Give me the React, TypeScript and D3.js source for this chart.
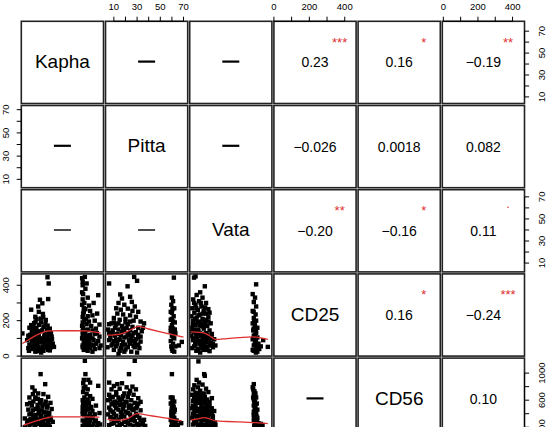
import React from "react";
import * as d3 from "d3";

const W = 547;
const H = 427;
const ORIGIN = 21.3;
const PITCH = 84.2;
const SIZE = 82.2;
const FONT = "'Liberation Sans', Arial, Helvetica, sans-serif";
const RED = "#e03030";

// variables (6th variable's row is outside the picture)
const varNames = ["Kapha", "Pitta", "Vata", "CD25", "CD56", "V6"];
const varDomains: [number, number][] = [
  [4, 79],
  [2.8, 73.6],
  [2, 76.5],
  [0, 464],
  [7, 1222],
  [-6, 469],
];
const doshaTicks = [10, 20, 30, 40, 50, 60, 70];
const doshaLabels = [10, 30, 50, 70];
const cd25Ticks = [0, 100, 200, 300, 400];
const cd25Labels = [0, 200, 400];
const cd56Ticks = [200, 400, 600, 800, 1000];
const cd56Labels = [200, 600, 1000];
const varTicks = [doshaTicks, doshaTicks, doshaTicks, cd25Ticks, cd56Ticks, cd25Ticks];
const varLabels = [doshaLabels, doshaLabels, doshaLabels, cd25Labels, cd56Labels, cd25Labels];

// upper panels: [row, col, r, significance]
const corrCells: [number, number, string, string][] = [
  [0, 3, "0.23", "***"],
  [0, 4, "0.16", "*"],
  [0, 5, "\u22120.19", "**"],
  [1, 3, "\u22120.026", ""],
  [1, 4, "0.0018", ""],
  [1, 5, "0.082", ""],
  [2, 3, "\u22120.20", "**"],
  [2, 4, "\u22120.16", "*"],
  [2, 5, "0.11", "."],
  [3, 4, "0.16", "*"],
  [3, 5, "\u22120.24", "***"],
  [4, 5, "0.10", ""],
];

// dash cells: [row, col, thickness]
const dashCells: [number, number, number][] = [
  [0, 1, 2.2],
  [0, 2, 2.2],
  [1, 0, 2.2],
  [1, 2, 2.2],
  [2, 0, 1.4],
  [2, 1, 1.4],
  [4, 3, 2.2],
];

// scatter data
const kaphaCD25: [number, number][] = [
  [27.9,445],[29,410],[28.5,322],[21,318],[23.2,298],[19.4,280],[13,262],[20,250],[23.7,238],[16.8,222],[22.1,212],[26.3,204],[15.7,186],[20,176],[5,128],
  [11.4,160],[14.6,150],[17.8,158],[24.2,165],[27.4,150],[29.5,140],[13.6,135],[16.8,128],[21,140],[25.3,125],[28.5,118],[31.7,110],[10.4,115],[12.5,100],[15.7,108],[20,112],[23.2,100],[26.3,95],[30.6,92],[9.3,90],[13.6,82],[17.8,88],[22.1,80],[25.3,72],[29.5,78],[32.7,70],[11.4,65],[15.7,60],[18.9,68],[23.2,55],[27.4,58],[30.6,48],[10.4,45],[14.6,40],[20,38],[24.2,30],[28.5,35],[16.8,25],[33.8,52],[22.1,20],
  [12,120],[14,95],[17,75],[19,125],[21,90],[23,145],[25,110],[27,85],[29,60],[31,130],[12,55],[16,45],[19,50],[22,42],[26,48],[30,32],[13,175],[17,195],[22,190],[26,180],[28,172],[18,210],[24,220],[20,100],[18,140],[15,170],[11,30],[19,28],[32,95],[27,120],[24,82],[17,100],[14,115],[28,100],[30,155],
  [62,447],[63.6,410],[74.2,344],[62.5,380],[60.4,350],[64.6,330],[61.5,300],[65.7,285],[70,300],[62.5,265],[66.8,255],[60.4,240],[64.6,225],[68.9,230],[73.2,240],[61.5,205],[65.7,195],[71,200],[63.6,180],[67.8,170],[75.3,178],[60.4,160],[64.6,150],[68.9,145],[72.1,155],[62.5,130],[66.8,120],[71,125],[75.3,110],[61.5,105],[65.7,95],[70,90],[74.2,85],[63.6,75],[67.8,65],[72.1,70],[76.4,60],[62.5,55],[66.8,45],[71,40],[64.6,30],[68.9,25],[75.3,45],[60,420],[61,270],[60,190],[60,120],[61,80],[60,60],
  [59.5,440],[60,400],[59.5,360],[60,320],[59.5,290],[61,250],[60,220],[63,210],[59.5,170],[62,145],[60,140],[63,115],[59.5,100],[62,90],[60,50],[63,40],[61,35],[65,110],[69,100],[73,130],[70,60],[66,80],[64,60],
];
const pittaCD25: [number, number][] = [
  [5.9,410],[27.5,447],[30,425],[21.8,394],[15.5,348],[17,325],[24,335],[25.5,306],[14,300],[19,290],[28,280],[12,270],[16,262],[22,268],[26,255],[31,250],[13,240],[18,235],[24,230],[29,222],[10,215],[15,205],[20,210],[27,200],[33,195],[8,185],[12,178],[17,170],[22,180],[26,165],[31,160],[5,150],[9,145],[14,150],[19,140],[24,145],[29,135],[34,140],[7,120],[11,115],[16,120],[21,110],[26,115],[31,105],[6,90],[10,85],[14,92],[18,80],[23,88],[28,75],[33,82],[8,60],[12,55],[17,62],[22,50],[27,58],[32,45],[10,35],[15,30],[20,38],[25,25],[4.5,50],[30,20],
  [7,100],[9,130],[11,160],[13,125],[15,95],[17,135],[19,105],[21,160],[23,120],[25,100],[27,130],[29,95],[31,120],[33,110],[9,70],[13,70],[16,45],[20,65],[24,70],[28,50],[31,65],[6,180],[10,190],[14,185],[20,190],[24,195],[18,155],[22,125],[12,90],[26,85],[35,160],[19,25],[14,12],[6,130],[36,185],
  [61.7,443],[60,330],[61,310],[59.5,290],[62,270],[60,245],[61.5,225],[59,205],[62.5,190],[60,175],[61,155],[59,140],[63,130],[60,115],[62,100],[59,85],[61,70],[63,55],[60,40],[62,25],[68.5,80],[66,60],
  [59,250],[60.5,265],[60,210],[61,195],[59,160],[60.5,130],[61,110],[59.5,55],[60.5,30],[62.5,150],
];
const vataCD25: [number, number][] = [
  [5.9,443],[7.3,450],[15.7,394],[11.5,360],[8.3,345],[13.6,330],[5.2,320],[10.5,310],[16.8,300],[7.3,290],[12.6,280],[4.1,270],[9.4,260],[14.7,255],[18.9,265],[6.2,245],[11.5,235],[16.8,240],[3.6,225],[8.3,218],[13.6,210],[18.9,220],[5.2,200],[10.5,195],[15.7,190],[21,185],[7.3,175],[12.6,168],[17.9,170],[4.1,160],[9.4,150],[14.7,155],[20,145],[6.2,135],[11.5,128],[16.8,130],[22.1,125],[3.6,115],[8.3,110],[13.6,105],[18.9,100],[24.2,95],[5.2,90],[10.5,85],[15.7,80],[21,75],[7.3,65],[12.6,60],[17.9,55],[23.1,50],[4.1,45],[9.4,40],[14.7,35],[20,28],[11.5,20],[25.3,60],
  [5,180],[7,210],[9,190],[11,175],[13,185],[15,170],[17,205],[19,195],[4,140],[6,150],[8,125],[10,140],[12,115],[14,125],[16,110],[18,120],[20,110],[22,100],[5,100],[7,80],[9,95],[11,70],[13,85],[15,65],[17,90],[19,80],[21,60],[23,70],[6,55],[8,30],[12,45],[16,50],[18,35],[10,230],[14,240],[8,270],[12,300],[6,300],[16,275],[20,245],
  [62.2,405],[59.1,350],[61.2,330],[60.1,305],[62.2,280],[59.1,255],[61.7,235],[60.1,215],[62.2,200],[59.1,185],[61.2,170],[63.3,160],[59.6,145],[62.2,130],[60.1,115],[63.3,105],[59.1,95],[61.2,80],[64.3,70],[60.1,60],[62.2,45],[59.1,35],[63.3,25],[66.4,55],[72.8,52],[68.6,90],
  [60,250],[61,180],[60,155],[62,140],[61,120],[60,100],[62,85],[61,65],[60,30],[63,50],[62,20],[65,40],[60.5,195],
];
const kaphaCD56: [number, number][] = [
  [21.6,985],[25.8,837],[14.1,789],[16.2,740],[19.4,700],[14.6,689],[24.2,690],[28.5,650],[11.4,640],[16.8,620],[22.1,600],[26.3,580],[30.6,560],[9.3,540],[13.6,520],[18.9,530],[23.2,510],[27.4,490],[31.7,470],[10.4,460],[14.6,450],[20,440],[24.2,420],[29.5,410],[11.4,390],[16.8,380],[22.1,370],[26.3,360],[30.6,340],[7.2,330],[12.5,320],[17.8,310],[23.2,300],[28.5,290],[32.7,280],[9.3,270],[14.6,260],[20,250],[25.3,240],[29.5,230],[11.4,220],[16.8,210],[22.1,200],[27.4,190],[13.6,160],[20,150],[7.2,200],
  [12,560],[15,580],[17,470],[19,620],[21,560],[23,450],[25,540],[27,420],[29,380],[13,400],[15,350],[18,330],[20,400],[22,330],[24,280],[26,320],[28,250],[31,310],[10,300],[12,250],[16,230],[18,280],[21,260],[23,220],[26,210],[30,200],[14,300],[19,480],[17,640],[28,520],
  [62,1182],[62.5,985],[65.2,900],[66.8,860],[74.2,812],[62.5,800],[64.6,760],[60.4,720],[63.6,690],[66.8,660],[61.5,640],[64.6,610],[68.9,620],[62.5,580],[65.7,560],[60.4,540],[63.6,520],[67.8,500],[72.1,520],[61.5,480],[64.6,460],[68.9,440],[62.5,420],[66.8,400],[71,390],[75.3,410],[61.5,380],[64.6,360],[67.8,340],[63.6,320],[66.8,300],[71,290],[62.5,280],[65.7,260],[70,250],[74.2,260],[61.5,240],[64.6,220],[68.9,210],[73.2,200],[63.6,190],[67.8,170],
  [61,900],[60.5,850],[61,780],[60,600],[60,500],[60,440],[60,400],[60,300],[60,220],[63,540],[66,480],[69,350],[72,300],[66,230],[62,210],[76,240],
];
const pittaCD56: [number, number][] = [
  [28,1182],[23,985],[6,860],[13,837],[17,850],[21,790],[26,800],[10,810],[8,760],[15,770],[24,740],[29,760],[12,720],[19,700],[27,680],[6,680],[9,650],[14,640],[22,650],[31,630],[17,610],[25,600],[5,600],[11,580],[20,570],[28,560],[33,575],[8,540],[15,530],[23,520],[30,510],[6,490],[12,480],[18,470],[26,460],[33,450],[9,430],[16,420],[22,410],[29,400],[5,390],[12,370],[19,360],[25,350],[32,340],[8,320],[14,310],[21,300],[28,290],[35,280],[10,260],[17,250],[24,240],[31,230],[6,230],[13,210],[20,200],
  [7,620],[9,560],[11,520],[13,560],[15,600],[17,540],[19,520],[21,580],[23,480],[25,520],[27,460],[29,480],[31,550],[7,450],[10,400],[14,460],[17,380],[20,430],[24,390],[27,350],[30,370],[33,300],[7,350],[10,330],[13,290],[16,350],[19,280],[22,260],[25,310],[30,250],[34,240],[12,680],[18,660],[23,700],[8,250],[15,230],[27,220],[36,310],[37,220],
  [60,985],[59,640],[60.5,610],[62,580],[59,550],[61,520],[60,490],[62.5,460],[59.5,430],[61,400],[60,370],[62,340],[59,310],[61,280],[60,250],[62,220],[59.5,200],[68,260],[65,230],
  [60.5,640],[60,560],[61.5,500],[60,460],[62,430],[59.5,380],[61,340],[62,310],[60,290],[61.5,240],[60,210],[63,270],[64,300],
];
const vataCD56: [number, number][] = [
  [9.9,1173],[15.1,985],[15.7,960],[8.3,900],[10.5,860],[6.2,820],[13.6,830],[9.4,790],[16.8,770],[5.2,760],[11.5,740],[7.3,710],[14.7,700],[18.9,720],[4.1,680],[10.5,660],[15.7,650],[8.3,620],[12.6,600],[17.9,610],[22.1,630],[5.2,590],[10.5,560],[15.7,550],[20,570],[7.3,530],[12.6,510],[17.9,500],[4.1,480],[9.4,470],[14.7,460],[20,450],[24.2,440],[6.2,430],[11.5,410],[16.8,400],[22.1,390],[8.3,370],[13.6,360],[18.9,350],[4.1,340],[10.5,320],[15.7,310],[21,300],[7.3,290],[12.6,270],[17.9,260],[23.1,250],[5.2,240],[9.4,220],[14.7,210],[20,230],[25.3,230],
  [6,640],[8,570],[10,600],[12,560],[14,620],[16,580],[18,540],[20,510],[22,480],[5,520],[7,480],[9,440],[11,470],[13,430],[15,490],[17,440],[19,410],[21,420],[23,360],[5,400],[7,360],[9,330],[11,350],[13,320],[15,380],[17,330],[19,300],[21,280],[23,300],[25,270],[6,280],[8,260],[10,240],[12,220],[16,240],[18,220],[22,220],[9,700],[12,680],[7,670],
  [60.1,837],[59.1,790],[59.6,760],[60.7,730],[60.1,700],[61.2,670],[62.2,640],[60.1,610],[61.2,580],[62.8,550],[60.1,520],[61.2,490],[63.3,460],[60.1,430],[62.2,400],[61.2,370],[63.3,340],[60.1,310],[62.2,280],[64.3,260],[61.2,240],[65.4,220],[63.3,205],
  [61.5,700],[59.5,640],[60.5,580],[61.5,520],[61,460],[62,430],[60,380],[62.5,360],[60.5,340],[63,300],[61,270],[62.5,240],[60.5,220],[64,230],[66,215],[68,230],[66.5,250],
];

// smoother lines
const smoothKaphaCD25: [number, number][] = [[5,71],[11.4,95],[17.8,118],[24.2,135],[30.6,142],[43.4,143],[54,143],[62.5,142],[68.9,138],[76.4,130]];
const smoothPittaCD25: [number, number][] = [[4.5,118],[10,120],[16,125],[22,140],[28,160],[31,168],[40,153],[50,137],[60,122],[70,107]];
const smoothVataCD25: [number, number][] = [[3.1,137],[9.4,135],[14.7,131],[20,115],[25.3,94],[35.8,99],[46.4,104],[58,109],[65.4,104],[72.8,94]];
const smoothKaphaCD56: [number, number][] = [[6.1,230],[16.8,290],[27.4,340],[31.1,353],[43.4,353],[59.3,353],[75.3,350]];
const smoothPittaCD56: [number, number][] = [[4.6,318],[10,305],[16,304],[22,330],[30,402],[40,375],[50,348],[60,320],[68.5,293]];
const smoothVataCD56: [number, number][] = [[3.1,304],[9.4,325],[14.7,343],[20,325],[25.3,293],[35.8,285],[51.7,275],[62.2,268],[72.8,254]];

// [row, col, points, smooth]
const scatterPanels: [number, number, [number, number][], [number, number][]][] = [
  [3, 0, kaphaCD25, smoothKaphaCD25],
  [3, 1, pittaCD25, smoothPittaCD25],
  [3, 2, vataCD25, smoothVataCD25],
  [4, 0, kaphaCD56, smoothKaphaCD56],
  [4, 1, pittaCD56, smoothPittaCD56],
  [4, 2, vataCD56, smoothVataCD56],
];

const NROWS = 5;
const NCOLS = 6;

const pos = (i: number) => ORIGIN + i * PITCH;
const xScale = (c: number) => d3.scaleLinear().domain(varDomains[c]).range([pos(c), pos(c) + SIZE]);
const yScale = (r: number) => d3.scaleLinear().domain(varDomains[r]).range([pos(r) + SIZE, pos(r)]);

export default function App() {
  const rightEdge = pos(NCOLS - 1) + SIZE;
  const top = pos(0);
  const left = pos(0);
  const PT = 4.4;
  const TICK = 4.6;

  const panels: React.ReactNode[] = [];
  for (let r = 0; r < NROWS; r++) {
    for (let c = 0; c < NCOLS; c++) {
      panels.push(
        <rect key={`p${r}-${c}`} x={pos(c)} y={pos(r)} width={SIZE} height={SIZE}
          fill="none" stroke="#222" strokeWidth={1.6} />
      );
    }
  }

  return (
    <svg width={W} height={H} style={{ position: "absolute", left: 0, top: 0, background: "#fff" }}
      fontFamily={FONT}>
      <defs>
        {scatterPanels.map(([r, c]) => (
          <clipPath id={`clip${r}-${c}`} key={`cp${r}-${c}`}>
            <rect x={pos(c)} y={pos(r)} width={SIZE} height={SIZE} />
          </clipPath>
        ))}
      </defs>

      {/* scatter panels */}
      {scatterPanels.map(([r, c, pts, sm]) => {
        const xs = xScale(c);
        const ys = yScale(r);
        const line = d3.line<[number, number]>().x(d => xs(d[0])).y(d => ys(d[1])).curve(d3.curveMonotoneX);
        return (
          <g key={`s${r}-${c}`} clipPath={`url(#clip${r}-${c})`}>
            {pts.map((d, i) => (
              <rect key={i} x={xs(d[0]) - PT / 2} y={ys(d[1]) - PT / 2} width={PT} height={PT} fill="#000" />
            ))}
            <path d={line(sm) || ""} fill="none" stroke={RED} strokeWidth={1.3} />
          </g>
        );
      })}

      {panels}

      {/* diagonal names */}
      {varNames.slice(0, NROWS).map((name, i) => (
        <text key={name} x={pos(i) + SIZE / 2} y={pos(i) + SIZE / 2 + 5.6} textAnchor="middle" fontSize={19} fill="#000">
          {name}
        </text>
      ))}

      {/* correlations */}
      {corrCells.map(([r, c, txt, sig]) => (
        <g key={`c${r}-${c}`}>
          <text x={pos(c) + SIZE / 2} y={pos(r) + SIZE / 2 + 5} textAnchor="middle" fontSize={14} fill="#000">{txt}</text>
          {sig && (
            <text x={pos(c) + SIZE * 0.8} y={pos(r) + SIZE * 0.2 + (sig === "." ? 1.6 : 8.9)} textAnchor="middle"
              fontSize={13} fill={RED}>{sig}</text>
          )}
        </g>
      ))}

      {/* dashes */}
      {dashCells.map(([r, c, t]) => (
        <line key={`d${r}-${c}`} x1={pos(c) + SIZE / 2 - 8.5} x2={pos(c) + SIZE / 2 + 8.5}
          y1={pos(r) + SIZE / 2 - 0.8} y2={pos(r) + SIZE / 2 - 0.8} stroke="#000" strokeWidth={t} />
      ))}

      {/* top axes: columns 2,4,6 */}
      {[1, 3, 5].map(c => {
        const xs = xScale(c);
        const ticks = varTicks[c];
        return (
          <g key={`ta${c}`}>
            <line x1={xs(ticks[0])} x2={xs(ticks[ticks.length - 1])} y1={top} y2={top} stroke="#000" strokeWidth={1} />
            {ticks.map(t => (
              <line key={t} x1={xs(t)} x2={xs(t)} y1={top} y2={top - TICK} stroke="#000" strokeWidth={1} />
            ))}
            {varLabels[c].map(t => (
              <text key={`l${t}`} x={xs(t)} y={9.6} textAnchor="middle" fontSize={9.5} fill="#000">{t}</text>
            ))}
          </g>
        );
      })}

      {/* left axes: rows 2,4 */}
      {[1, 3].map(r => {
        const ys = yScale(r);
        const ticks = varTicks[r];
        return (
          <g key={`la${r}`}>
            <line x1={left} x2={left} y1={ys(ticks[0])} y2={ys(ticks[ticks.length - 1])} stroke="#000" strokeWidth={1} />
            {ticks.map(t => (
              <line key={t} x1={left} x2={left - TICK} y1={ys(t)} y2={ys(t)} stroke="#000" strokeWidth={1} />
            ))}
            {varLabels[r].map(t => (
              <text key={`l${t}`} transform={`translate(5.2,${ys(t)}) rotate(-90)`} dy={3.4} textAnchor="middle"
                fontSize={9.5} fill="#000">{t}</text>
            ))}
          </g>
        );
      })}

      {/* right axes: rows 1,3,5 */}
      {[0, 2, 4].map(r => {
        const ys = yScale(r);
        const ticks = varTicks[r];
        return (
          <g key={`ra${r}`}>
            <line x1={rightEdge} x2={rightEdge} y1={ys(ticks[0])} y2={ys(ticks[ticks.length - 1])} stroke="#000" strokeWidth={1} />
            {ticks.map(t => (
              <line key={t} x1={rightEdge} x2={rightEdge + TICK} y1={ys(t)} y2={ys(t)} stroke="#000" strokeWidth={1} />
            ))}
            {varLabels[r].map(t => (
              <text key={`l${t}`} transform={`translate(541.6,${ys(t)}) rotate(-90)`} dy={3.4} textAnchor="middle"
                fontSize={9.5} fill="#000">{t}</text>
            ))}
          </g>
        );
      })}
    </svg>
  );
}
